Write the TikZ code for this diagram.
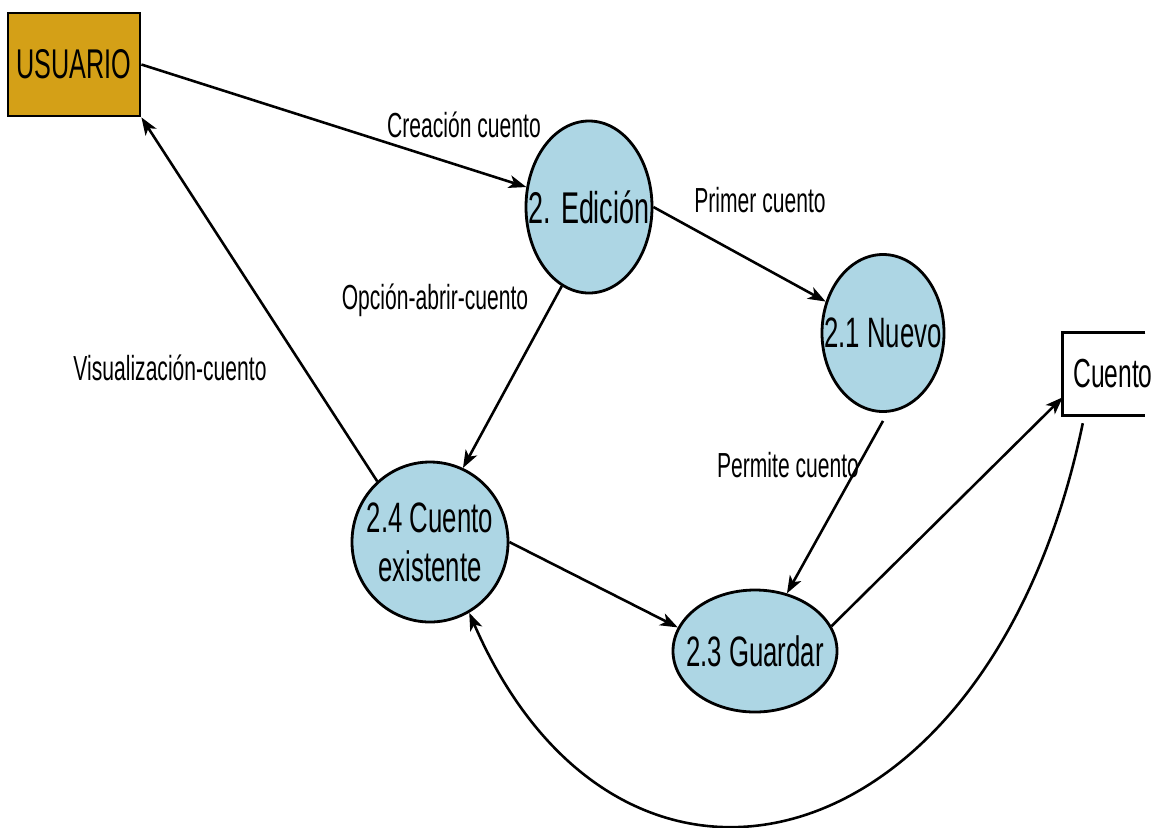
\documentclass[tikz,border=0pt]{standalone}
\usepackage{fontspec}
\setmainfont{Liberation Sans}
\usepackage{graphicx}
\usetikzlibrary{shapes.geometric,arrows.meta}
\definecolor{procfill}{RGB}{173,214,228}
\definecolor{extfill}{RGB}{212,160,23}
\newcommand{\tall}[1]{\scalebox{1}[1.65]{#1}}
\begin{document}
\begin{tikzpicture}[x=0.03cm,y=-0.03cm,
  proc/.style={ellipse, draw=black, line width=2.4pt, fill=procfill, inner sep=0pt},
  ntext/.style={font=\fontsize{22}{42}\selectfont, align=center, inner sep=0pt},
  flowlbl/.style={font=\fontsize{18}{22}\selectfont, inner sep=0pt},
  conn/.style={line width=2.2pt, -{Stealth[length=15pt,width=11pt,inset=4pt]}},
]
\fill[white] (0,0) rectangle (1158,827);
\useasboundingbox (0,0) rectangle (1158,827);

% external entity
\node[draw=black, line width=2.4pt, fill=extfill, minimum width=3.96cm, minimum height=3.09cm,
      inner sep=0pt, font=\fontsize{21.5}{26}\selectfont] (us) at (74,64.5) {\tall{USUARIO}};

% processes
\node[proc, minimum width=3.78cm, minimum height=5.16cm,
      label={[ntext, font=\fontsize{23}{42}\selectfont]center:{\tall{2. Edición}}}] (ed) at (589,207) {};
\node[proc, minimum width=3.66cm, minimum height=4.71cm,
      label={[ntext]center:{\tall{2.1 Nuevo}}}] (nv) at (883,333) {};
\node[proc, minimum width=4.68cm, minimum height=4.8cm,
      label={[ntext]center:{\tall{2.4 Cuento}\\\tall{existente}}}] (ce) at (430,542) {};
\node[proc, minimum width=4.92cm, minimum height=3.66cm,
      label={[ntext]center:{\tall{2.3 Guardar}}}] (gu) at (755,651) {};

% data store (open box)
\node[minimum width=2.46cm, minimum height=2.46cm, inner sep=0pt,
      label={[ntext, font=\fontsize{21}{26}\selectfont, xshift=0.27cm]center:{\tall{Cuento}}}] (cu) at (1104,374) {};
\draw[line width=2.4pt] (cu.north east) -- (cu.north west) -- (cu.south west) -- (cu.south east);

% flows
\draw[conn] (us.east) -- (ed);
\draw[conn] (ed.east) -- (nv);
\draw[conn] (ed.251) -- (ce.66);
\draw[conn] (ce.131) -- (us.south east);
\draw[conn] ([yshift=-0.24cm]nv.south) -- (gu.61);
\draw[conn] (ce.east) -- (gu.163);
\draw[conn] (gu.18) -- ([yshift=0.54cm]cu.south west);
\draw[conn] ([shift={(0.6cm,-0.24cm)}]cu.south west) .. controls (990,870) and (620,960) .. (ce.-61);

% flow labels
\node[flowlbl] (l1) at (464,125) {\tall{Creación cuento}};
\node[flowlbl] (l2) at (760,200) {\tall{Primer cuento}};
\node[flowlbl] (l3) at (435,300) {\tall{Opción-abrir-cuento}};
\node[flowlbl] (l4) at (170,368) {\tall{Visualización-cuento}};
\node[flowlbl] (l5) at (788,465) {\tall{Permite cuento}};
\end{tikzpicture}
\end{document}
